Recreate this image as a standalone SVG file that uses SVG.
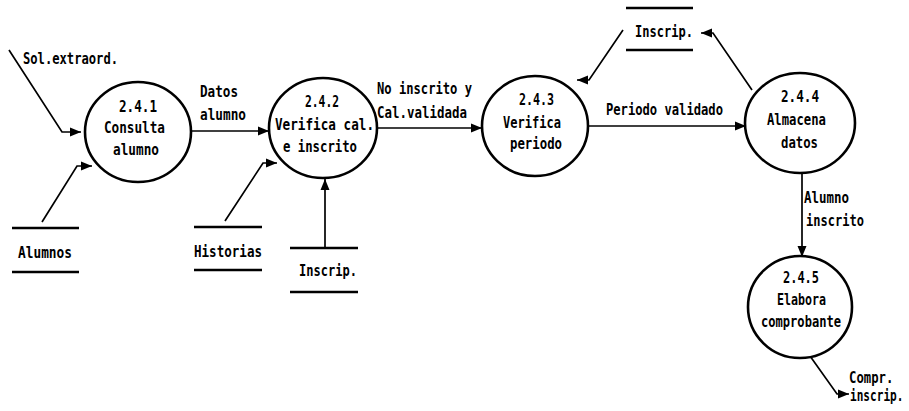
<svg xmlns="http://www.w3.org/2000/svg" width="909" height="411" viewBox="0 0 909 411">
  <style>
    .bubble { fill: #ffffff; stroke: #000000; stroke-width: 2.6; }
    .store { stroke: #000000; stroke-width: 2.6; fill: none; }
    .flow { stroke: #000000; stroke-width: 1.7; fill: none; marker-end: url(#arrow); }
    text { font-family: "DejaVu Sans Mono", "Liberation Mono", monospace; font-size: 15px; font-weight: bold; fill: #000000; }
  </style>
  <defs>
    <marker id="arrow" markerUnits="userSpaceOnUse" markerWidth="12" markerHeight="10" refX="11" refY="5" orient="auto">
      <path d="M0,0.5 L11,5 L0,9.5 Z" fill="#000000"/>
    </marker>
  </defs>

  <rect width="909" height="411" fill="#ffffff"/>

  <!-- Data flows -->
  <g id="connectors">
    <polyline class="flow" points="9,50 62,132 81,132"/>
    <polyline class="flow" points="42,222 77,166 92,166"/>
    <line class="flow" x1="191" y1="131" x2="269" y2="131"/>
    <polyline class="flow" points="225,221 263,163 277,163"/>
    <line class="flow" x1="325" y1="248" x2="325" y2="179"/>
    <line class="flow" x1="377" y1="128" x2="482" y2="128"/>
    <line class="flow" x1="589" y1="126" x2="746" y2="126"/>
    <polyline class="flow" points="623,30 589,80 577,80"/>
    <polyline class="flow" points="752,90 713,33 701,33"/>
    <line class="flow" x1="802" y1="173" x2="802" y2="257"/>
    <polyline class="flow" points="810,356 837,394 849,394"/>
  </g>

  <!-- Flow labels -->
  <g id="flow-labels">
    <text x="23" y="64" textLength="95" lengthAdjust="spacingAndGlyphs">Sol.extraord.</text>
    <text x="200" y="97" textLength="38" lengthAdjust="spacingAndGlyphs">Datos</text>
    <text x="200" y="120" textLength="46" lengthAdjust="spacingAndGlyphs">alumno</text>
    <text x="377" y="94" textLength="95" lengthAdjust="spacingAndGlyphs">No inscrito y</text>
    <text x="377" y="118" textLength="90" lengthAdjust="spacingAndGlyphs">Cal.validada</text>
    <text x="606" y="115" textLength="117" lengthAdjust="spacingAndGlyphs">Periodo validado</text>
    <text x="804" y="203" textLength="45" lengthAdjust="spacingAndGlyphs">Alumno</text>
    <text x="806" y="226" textLength="58" lengthAdjust="spacingAndGlyphs">inscrito</text>
    <text transform="translate(849,383) scale(0.82,1)">Compr.</text>
    <text transform="translate(850,401) scale(0.74,1)">inscrip.</text>
  </g>

  <!-- Processes -->
  <g id="p241">
    <ellipse class="bubble" cx="138" cy="132" rx="53" ry="50"/>
    <text x="119" y="112" textLength="38" lengthAdjust="spacingAndGlyphs">2.4.1</text>
    <text x="104" y="133" textLength="61" lengthAdjust="spacingAndGlyphs">Consulta</text>
    <text x="113" y="155" textLength="46" lengthAdjust="spacingAndGlyphs">alumno</text>
  </g>
  <g id="p242">
    <ellipse class="bubble" cx="323" cy="128" rx="54" ry="50"/>
    <text x="305" y="107" textLength="34" lengthAdjust="spacingAndGlyphs">2.4.2</text>
    <text x="275" y="130" textLength="99" lengthAdjust="spacingAndGlyphs">Verifica cal.</text>
    <text x="283" y="152" textLength="74" lengthAdjust="spacingAndGlyphs">e inscrito</text>
  </g>
  <g id="p243">
    <ellipse class="bubble" cx="535" cy="126" rx="53" ry="50"/>
    <text x="519" y="105" textLength="35" lengthAdjust="spacingAndGlyphs">2.4.3</text>
    <text x="503" y="128" textLength="58" lengthAdjust="spacingAndGlyphs">Verifica</text>
    <text x="510" y="149" textLength="52" lengthAdjust="spacingAndGlyphs">periodo</text>
  </g>
  <g id="p244">
    <ellipse class="bubble" cx="800" cy="123" rx="55" ry="50"/>
    <text x="781" y="102" textLength="38" lengthAdjust="spacingAndGlyphs">2.4.4</text>
    <text x="767" y="125" textLength="59" lengthAdjust="spacingAndGlyphs">Almacena</text>
    <text x="781" y="148" textLength="37" lengthAdjust="spacingAndGlyphs">datos</text>
  </g>
  <g id="p245">
    <ellipse class="bubble" cx="800" cy="307" rx="52" ry="51"/>
    <text x="783" y="283" textLength="36" lengthAdjust="spacingAndGlyphs">2.4.5</text>
    <text x="777" y="305" textLength="49" lengthAdjust="spacingAndGlyphs">Elabora</text>
    <text x="761" y="327" textLength="80" lengthAdjust="spacingAndGlyphs">comprobante</text>
  </g>

  <!-- Data stores -->
  <g id="store-alumnos">
    <line class="store" x1="12" y1="228" x2="79" y2="228"/>
    <line class="store" x1="12" y1="272" x2="79" y2="272"/>
    <text x="18" y="258" textLength="54" lengthAdjust="spacingAndGlyphs">Alumnos</text>
  </g>
  <g id="store-historias">
    <line class="store" x1="194" y1="227" x2="262" y2="227"/>
    <line class="store" x1="194" y1="270" x2="262" y2="270"/>
    <text x="194" y="257" textLength="68" lengthAdjust="spacingAndGlyphs">Historias</text>
  </g>
  <g id="store-inscrip-low">
    <line class="store" x1="290" y1="248" x2="358" y2="248"/>
    <line class="store" x1="290" y1="292" x2="358" y2="292"/>
    <text x="299" y="276" textLength="58" lengthAdjust="spacingAndGlyphs">Inscrip.</text>
  </g>
  <g id="store-inscrip-top">
    <line class="store" x1="626" y1="8" x2="693" y2="8"/>
    <line class="store" x1="626" y1="50" x2="693" y2="50"/>
    <text x="635" y="37" textLength="58" lengthAdjust="spacingAndGlyphs">Inscrip.</text>
  </g>
</svg>
